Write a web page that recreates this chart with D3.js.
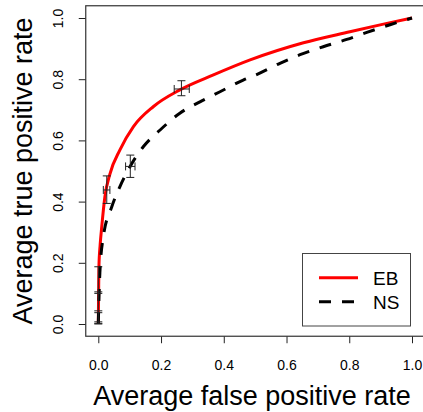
<!DOCTYPE html>
<html>
<head>
<meta charset="utf-8">
<script src="https://cdn.jsdelivr.net/npm/d3@7"></script>
<style>
  body { margin: 0; background: #fff; }
  text { font-family: "Liberation Sans", Arial, sans-serif; fill: #000; }
</style>
</head>
<body>
<div id="chart"></div>
<script>
// --- data ---
const ebFpr = [0, 0.001, 0.002, 0.006, 0.011, 0.021, 0.037, 0.069, 0.112, 0.175, 0.26, 0.367, 0.484, 0.654, 0.802, 0.909, 1];
const ebTpr = [0, 0.1, 0.187, 0.26, 0.318, 0.416, 0.49, 0.569, 0.645, 0.71, 0.765, 0.814, 0.863, 0.919, 0.955, 0.98, 1];

const nsFpr = [0, 0.002, 0.005, 0.016, 0.043, 0.069, 0.101, 0.144, 0.197, 0.26, 0.324, 0.388, 0.462, 0.5, 0.579, 0.643, 0.717, 0.792, 0.856, 0.93, 1];
const nsTpr = [0, 0.08, 0.167, 0.285, 0.383, 0.449, 0.514, 0.58, 0.634, 0.689, 0.726, 0.759, 0.797, 0.813, 0.852, 0.88, 0.906, 0.93, 0.953, 0.978, 1];

// error bars: centre and ranges
const errX   = [0.265, 0.102, 0.027, 0, 0, 0, 0];
const errY   = [0.768, 0.515, 0.438, 0.143, 0.07, 0.022, 0.003];
const errXlo = [0.242, 0.087, 0.016, 0, 0, 0, 0];
const errXhi = [0.29, 0.117, 0.037, 0, 0, 0, 0];
const errYlo = [0.746, 0.479, 0.394, 0.1, 0.037, 0.002, 0.0];
const errYhi = [0.795, 0.552, 0.484, 0.187, 0.105, 0.043, 0.007];

const ticks = [0, 0.2, 0.4, 0.6, 0.8, 1.0];
const legendNames = ["EB", "NS"];

// --- layout ---
const width = 423, height = 412;
const svg = d3.select("#chart").append("svg")
  .attr("width", width)
  .attr("height", height);
svg.append("rect").attr("width", width).attr("height", height).attr("fill", "#fff");

// R style 4% padding around [0,1]
const x = d3.scaleLinear().domain([-0.04, 1.04]).range([85.75, 424.55]);
const y = d3.scaleLinear().domain([-0.04, 1.04]).range([336.24, 5.76]);

// axes
const xAxis = svg.append("g")
  .attr("transform", `translate(0,${y(-0.04)})`)
  .call(d3.axisBottom(x).tickValues(ticks).tickFormat(d3.format(".1f")).tickSize(7));
xAxis.select(".domain").remove();
xAxis.selectAll("line").attr("stroke", "#222");
xAxis.selectAll("text").attr("dy", null).attr("y", 34)
  .style("font-size", "14px").style("font-family", "Liberation Sans, Arial, sans-serif");

const yAxis = svg.append("g")
  .attr("transform", `translate(${x(-0.04)},0)`)
  .call(d3.axisLeft(y).tickValues(ticks).tickFormat(d3.format(".1f")).tickSize(7));
yAxis.select(".domain").remove();
yAxis.selectAll("line").attr("stroke", "#222");
yAxis.selectAll("text")
  .attr("transform", "rotate(-90)")
  .attr("x", 0).attr("y", -22.5).attr("dy", null)
  .attr("text-anchor", "middle")
  .style("font-size", "14px").style("font-family", "Liberation Sans, Arial, sans-serif");

// frame
svg.append("rect")
  .attr("x", x(-0.04)).attr("y", y(1.04))
  .attr("width", x(1.04) - x(-0.04)).attr("height", y(-0.04) - y(1.04))
  .attr("fill", "none").attr("stroke", "#333").attr("stroke-width", 1.2);

// curves (smoothed through the read points)
const line = d3.line().x(d => x(d[0])).y(d => y(d[1])).curve(d3.curveMonotoneX);

svg.append("path")
  .datum(ebFpr.map((v, i) => [v, ebTpr[i]]))
  .attr("d", line)
  .attr("fill", "none").attr("stroke", "#ff0000").attr("stroke-width", 3);

svg.append("path")
  .datum(nsFpr.map((v, i) => [v, nsTpr[i]]))
  .attr("d", line)
  .attr("fill", "none").attr("stroke", "#000").attr("stroke-width", 3)
  .attr("stroke-dasharray", "12,11");

// error bars
const cap = 4;
const eb = svg.append("g").attr("stroke", "#222").attr("stroke-width", 1).attr("fill", "none");
errX.forEach((cx, i) => {
  const px = x(cx), py = y(errY[i]);
  // vertical
  eb.append("line").attr("x1", px).attr("x2", px).attr("y1", y(errYlo[i])).attr("y2", y(errYhi[i]));
  eb.append("line").attr("x1", px - cap).attr("x2", px + cap).attr("y1", y(errYlo[i])).attr("y2", y(errYlo[i]));
  eb.append("line").attr("x1", px - cap).attr("x2", px + cap).attr("y1", y(errYhi[i])).attr("y2", y(errYhi[i]));
  // horizontal
  if (errXhi[i] > errXlo[i]) {
    eb.append("line").attr("x1", x(errXlo[i])).attr("x2", x(errXhi[i])).attr("y1", py).attr("y2", py);
    eb.append("line").attr("x1", x(errXlo[i])).attr("x2", x(errXlo[i])).attr("y1", py - cap).attr("y2", py + cap);
    eb.append("line").attr("x1", x(errXhi[i])).attr("x2", x(errXhi[i])).attr("y1", py - cap).attr("y2", py + cap);
  }
});

// axis titles
svg.append("text")
  .attr("x", 252).attr("y", 405)
  .attr("text-anchor", "middle")
  .style("font-size", "27px")
  .text("Average false positive rate");

svg.append("text")
  .attr("transform", "translate(32,171) rotate(-90)")
  .attr("text-anchor", "middle")
  .style("font-size", "27px")
  .text("Average true positive rate");

// legend
const lg = svg.append("g");
lg.append("rect")
  .attr("x", 302.5).attr("y", 253.5).attr("width", 108).attr("height", 72.5)
  .attr("fill", "#fff").attr("stroke", "#444").attr("stroke-width", 1);
const legendY = [277.7, 301.7];
legendNames.forEach((name, i) => {
  lg.append("line")
    .attr("x1", 319).attr("x2", 358).attr("y1", legendY[i]).attr("y2", legendY[i])
    .attr("stroke", i === 0 ? "#ff0000" : "#000").attr("stroke-width", 3)
    .attr("stroke-dasharray", i === 0 ? null : "12,11");
  lg.append("text")
    .attr("x", 373).attr("y", legendY[i] + 7)
    .style("font-size", "19px")
    .text(name);
});
</script>
</body>
</html>
